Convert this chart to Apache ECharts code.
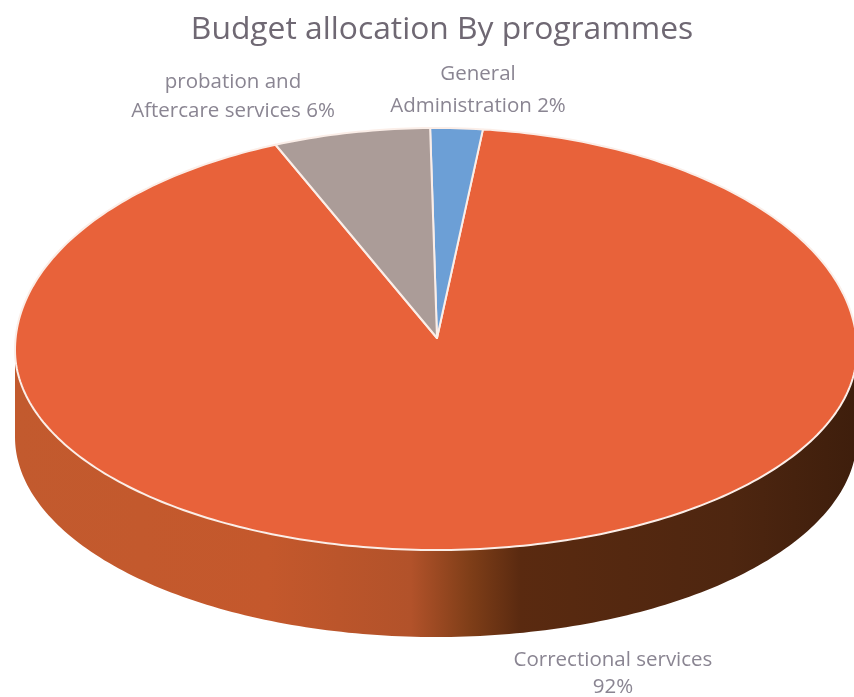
<!DOCTYPE html>
<html>
<head>
<meta charset="utf-8">
<style>
html,body{margin:0;padding:0;background:#fff}
#chart{width:854px;height:697px;filter:blur(0.6px)}
</style>
<script src="https://cdn.jsdelivr.net/npm/echarts@6/dist/echarts.min.js"></script>
</head>
<body>
<div id="chart"></div>
<script>
// Data
const titleText = 'Budget allocation By programmes';
const categories = ['General Administration', 'Correctional services', 'probation and Aftercare services'];
const shares = [2, 92, 6];
const labelLines = [['General', 'Administration 2%'], ['Correctional services', '92%'], ['probation and', 'Aftercare services 6%']];

// Style and layout
const sliceColors = ['#6c9fd6', '#e8623a', '#ab9c98'];
const labelAnchors = [[478, 74, 106], [613, 660, 687], [233, 82, 111]];
const cx = 436, cy = 350, rx = 421, ryTop = 222, ryBottom = 200, depth = 87;
const apex = [437, 338];
const startDeg = -0.8;
const total = shares.reduce((a, b) => a + b, 0);

function rim(deg, drop) {
  const t = deg * Math.PI / 180, c = Math.cos(t);
  return [cx + rx * Math.sin(t), cy - (c > 0 ? ryTop : ryBottom) * c + (drop || 0)];
}
function arc(from, to, drop) {
  const pts = [];
  const n = Math.max(2, Math.ceil(Math.abs(to - from)));
  for (let i = 0; i <= n; i++) pts.push(rim(from + (to - from) * i / n, drop));
  return pts;
}
function sliceRange(i) {
  let a = startDeg;
  for (let k = 0; k < i; k++) a += shares[k] / total * 360;
  return [a, a + shares[i] / total * 360];
}

const chart = echarts.init(document.getElementById('chart'), null, {renderer: 'canvas'});
chart.setOption({
  animation: false,
  backgroundColor: '#ffffff',
  title: {
    text: titleText, left: 437, top: 9, textAlign: 'center',
    textStyle: {fontFamily: 'Open Sans', fontSize: 31.8, fontWeight: 'normal', color: '#6f6873'}
  },
  series: [
    {
      type: 'custom', coordinateSystem: 'none', silent: true, z: 1,
      data: [total],
      renderItem: function () {
        const pts = arc(90, 270, 0).concat(arc(270, 90, depth));
        return {
          type: 'polygon', shape: {points: pts},
          style: {
            fill: new echarts.graphic.LinearGradient(0, 0, 1, 0, [
              {offset: 0, color: '#c25a2e'},
              {offset: 0.3, color: '#c4582c'},
              {offset: 0.47, color: '#b2522a'},
              {offset: 0.54, color: '#7f3e18'},
              {offset: 0.6, color: '#5a2a10'},
              {offset: 0.85, color: '#4e2610'},
              {offset: 1, color: '#3e1e0c'}
            ])
          }
        };
      }
    },
    {
      type: 'custom', coordinateSystem: 'none', silent: true, z: 2,
      data: shares.map((v, i) => ({name: categories[i], value: v})),
      renderItem: function (params) {
        const i = params.dataIndex, r = sliceRange(i);
        return {
          type: 'polygon',
          z2: i === 1 ? 1 : 2,
          shape: {points: [apex].concat(arc(r[0], r[1], 0))},
          style: {fill: sliceColors[i], stroke: '#fbeee8', lineWidth: 2, lineJoin: 'round'}
        };
      }
    },
    {
      type: 'custom', coordinateSystem: 'none', silent: true, z: 3,
      data: categories,
      renderItem: function (params) {
        const i = params.dataIndex, p = labelAnchors[i];
        return {
          type: 'group',
          children: labelLines[i].map((line, k) => ({
            type: 'text',
            style: {
              x: p[0], y: p[k + 1], text: line, textAlign: 'center', textVerticalAlign: 'middle',
              font: '20.5px "Open Sans"', fill: '#8a8592'
            }
          }))
        };
      }
    }
  ]
});
</script>
</body>
</html>
